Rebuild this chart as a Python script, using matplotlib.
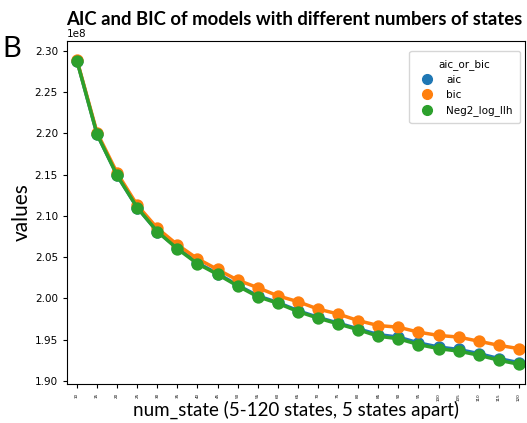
import numpy as np
import pandas as pd
import matplotlib
matplotlib.use("Agg")
import matplotlib.pyplot as plt
from matplotlib.lines import Line2D
import seaborn as sns

# ---- Data (y in units of 1e8) ----
num_state = list(range(10, 125, 5))
neg2_llh = [2.288, 2.199, 2.149, 2.110, 2.081, 2.060, 2.042, 2.029, 2.015, 2.002,
            1.994, 1.984, 1.976, 1.969, 1.962, 1.954, 1.951, 1.944, 1.939, 1.936,
            1.931, 1.925, 1.920]
aic = [2.288, 2.199, 2.149, 2.110, 2.081, 2.061, 2.043, 2.030, 2.016, 2.003,
       1.995, 1.985, 1.977, 1.970, 1.963, 1.956, 1.953, 1.946, 1.941, 1.938,
       1.933, 1.927, 1.922]
bic = [2.289, 2.201, 2.152, 2.113, 2.085, 2.065, 2.048, 2.035, 2.022, 2.013,
       2.003, 1.996, 1.987, 1.981, 1.973, 1.967, 1.965, 1.959, 1.955, 1.953,
       1.948, 1.943, 1.939]
groups = ["aic", "bic", "Neg2_log_llh"]
colors = ["#1f77b4", "#ff7f0e", "#2ca02c"]

df = pd.DataFrame({"num_state": num_state * 3,
                   "values": np.array(aic + bic + neg2_llh) * 1e8,
                   "aic_or_bic": [g for g in groups for _ in num_state]})

# ---- Plot ----
fig = plt.figure(figsize=(5.27, 4.23), dpi=100)
ax = fig.add_axes([0.127, 0.092, 0.869, 0.811])

sns.pointplot(data=df, x="num_state", y="values", hue="aic_or_bic",
              palette=colors, ax=ax, markersize=7, linewidth=2.5)

ax.set_ylim(1.896e8, 2.312e8)
ax.set_xlim(-0.5, 22.3)
ax.tick_params(axis="x", labelsize=3, labelrotation=90, length=3)
ax.tick_params(axis="y", labelsize=7.5, length=3)
ax.yaxis.get_offset_text().set_fontsize(7.5)
ax.set_xlabel("num_state (5-120 states, 5 states apart)", fontsize=13.5,
              family="Lato", labelpad=0)
ax.set_ylabel("values", fontsize=15, family="Lato", labelpad=2)

handles = [Line2D([], [], marker="o", linestyle="none", color=c, markersize=7)
           for c in colors]
ax.legend(handles, groups, title="aic_or_bic", loc="upper right", fontsize=7.5,
          title_fontsize=7.5, borderpad=0.7, bbox_to_anchor=(1.0, 0.985))

fig.text(0.559, 0.955, "AIC and BIC of models with different numbers of states",
         ha="center", va="center", fontsize=13.3, fontweight="bold", family="Lato")
fig.text(0.005, 0.885, "B", fontsize=21, family="Lato", va="center")

fig.savefig("out.png", dpi=100)
